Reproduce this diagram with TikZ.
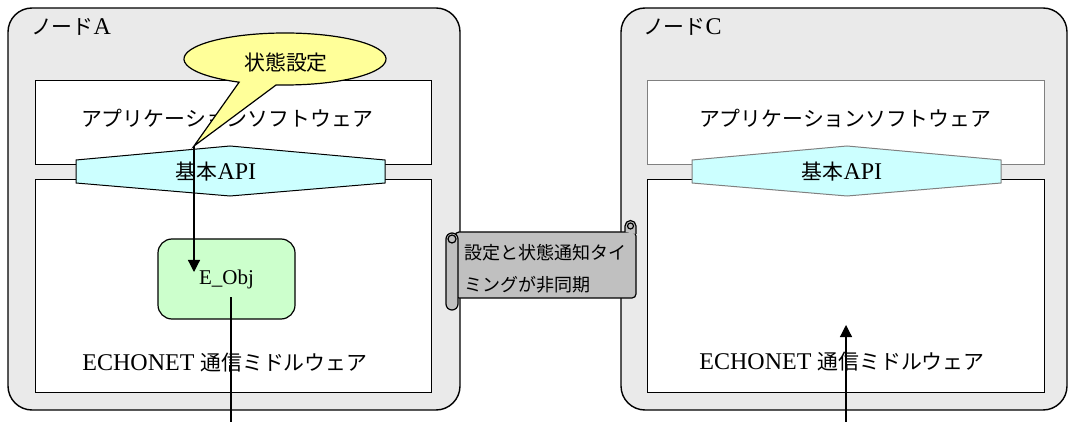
\documentclass[tikz,border=0pt]{standalone}
\usepackage{fontspec}
\setmainfont{Liberation Serif}
\newfontfamily\jp[Scale=0.87]{Noto Sans CJK JP}
\usepackage{xcolor}
\usepackage{tikz}
\usetikzlibrary{arrows.meta}

\definecolor{nodegray}{HTML}{EAEAEA}
\definecolor{callyellow}{HTML}{FFFF99}
\definecolor{apicyan}{HTML}{CCFFFF}
\definecolor{objgreen}{HTML}{CCFFCC}
\definecolor{scrollgray}{HTML}{C0C0C0}

\begin{document}
\begin{tikzpicture}[x=0.5pt,y=-0.5pt,font=\fontsize{12}{14}\selectfont]
\tikzstyle{node box} = [draw, line width=0.7pt, fill=nodegray, rounded corners=12pt]
\tikzstyle{layer} = [draw, line width=0.5pt, fill=white]
\tikzstyle{api} = [draw, line width=0.5pt, fill=apicyan]
\tikzstyle{jptext} = [font=\jp\fontsize{12}{14}\selectfont]
\tikzstyle{link} = [line width=0.6pt, -{Triangle[length=6pt,width=6pt]}]
\tikzstyle{scroll} = [draw, line width=0.6pt, fill=scrollgray]

\useasboundingbox (0,0) rectangle (1070,422);

% node A
\draw[node box] (8,8) rectangle (460,410);
\node[anchor=west] (titleA) at (24,27) {{\jp ノード}A};
\draw[layer] (35,81) rectangle (431,165);
\draw[layer] (35,180) rectangle (431,392);
\draw[api] (76,160) -- (230,146) -- (385,160) -- (385,183) -- (230,196) -- (76,183) -- cycle;
\node[jptext] (appA) at (227,118) {アプリケーションソフトウェア};
\node (apiA) at (216,172) {{\jp 基本}API};
\node (mwA) at (225,363) {ECHONET {\jp 通信ミドルウェア}};

% speech balloon
\coordinate (tipA) at (194,146);
\draw[line width=0.6pt, fill=callyellow] (tipA) -- ([shift={(117:101 and 26)}]285,59)
  arc[start angle=117, end angle=455, x radius=101, y radius=26] -- cycle;
\node[jptext] (setting) at (286,63) {状態設定};

\node[draw, line width=0.6pt, fill=objgreen, rounded corners=7pt, minimum width=68.5pt, minimum height=40pt,
  font=\fontsize{10.5}{12}\selectfont] (eobjA) at (226.5,279) {E\_Obj};

\coordinate (setA) at (194,272);
\draw[link] (tipA) -- (setA);
\coordinate (sendA) at (231,297);
\coordinate (busA) at (231,422);
\draw[line width=0.6pt] (sendA) -- (busA);

% node C
\draw[node box] (621,8) rectangle (1067,410);
\node[anchor=west] (titleC) at (636,27) {{\jp ノード}C};
\draw[layer, draw=gray] (647,81) rectangle (1044,165);
\draw[layer] (647,180) rectangle (1044,392);
\draw[api, draw=gray] (692,160) -- (847,146) -- (1001,160) -- (1001,183) -- (847,196) -- (692,183) -- cycle;
\node[jptext] (appC) at (845,118) {アプリケーションソフトウェア};
\node (apiC) at (842,172) {{\jp 基本}API};
\node (mwC) at (842,362) {ECHONET {\jp 通信ミドルウェア}};

\coordinate (busC) at (846,422);
\coordinate (recvC) at (846,325);
\draw[link] (busC) -- (recvC);

% scroll between the nodes
\draw[scroll, rounded corners=2pt] (455,232) rectangle (636,298);
\draw[scroll] (625,232) -- (625,226) arc[start angle=180, end angle=360, radius=5.5] -- (636,234);
\draw[line width=0.6pt] (630.5,226) circle[radius=3];
\draw[scroll, rounded corners=3pt] (446,233) rectangle (458,310);
\draw[line width=0.6pt] (452,239) circle[radius=4];
\node[anchor=west, align=left, font=\jp\fontsize{10.35}{16}\selectfont] (async) at (457,269)
  {設定と状態通知タイ\\ミングが非同期};
\end{tikzpicture}
\end{document}
